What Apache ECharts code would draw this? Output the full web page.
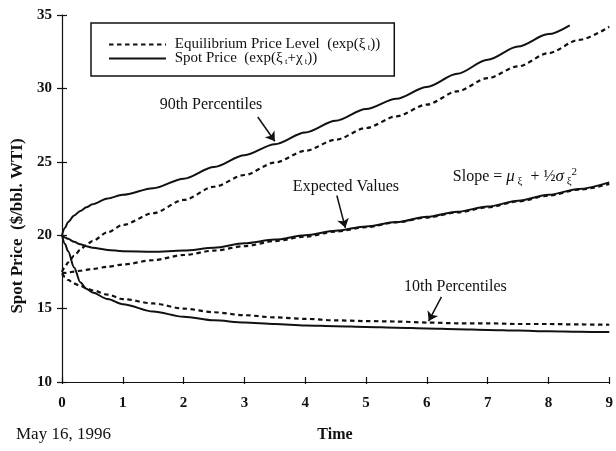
<!DOCTYPE html>
<html><head><meta charset="utf-8">
<script src="https://cdn.jsdelivr.net/npm/echarts/dist/echarts.min.js"></script>
<style>html,body{margin:0;padding:0;background:#fff}#c{width:616px;height:451px}</style>
</head><body><div id="c"></div>
<script>
// ---- data ----
const timeGrid = [0,0.05,0.1,0.2,0.3,0.4,0.5,0.75,1,1.5,2,2.5,3,3.5,4,4.5,5,5.5,6,6.5,7,7.5,8,8.5,9];
const timeSpot90 = [0,0.05,0.1,0.2,0.3,0.4,0.5,0.75,1,1.5,2,2.5,3,3.5,4,4.5,5,5.5,6,6.5,7,7.5,8,8.35];
const spot90   = [20.0,20.5,20.9,21.35,21.65,21.9,22.1,22.5,22.75,23.2,23.85,24.65,25.45,26.2,27.0,27.8,28.6,29.3,30.1,31.0,31.95,32.85,33.7,34.3];
const equil90  = [17.5,17.85,18.15,18.6,19.0,19.35,19.6,20.2,20.7,21.5,22.4,23.3,24.1,24.95,25.75,26.5,27.3,28.1,28.9,29.8,30.7,31.5,32.4,33.3,34.2];
const spotExp  = [20.0,19.85,19.75,19.55,19.38,19.25,19.15,19.0,18.9,18.87,18.95,19.15,19.45,19.7,20.0,20.3,20.6,20.9,21.25,21.6,21.95,22.35,22.75,23.15,23.6];
const equilExp = [17.4,17.43,17.46,17.52,17.58,17.64,17.7,17.85,18.0,18.3,18.65,18.95,19.25,19.6,19.9,20.25,20.55,20.88,21.2,21.55,21.9,22.3,22.7,23.1,23.5];
const spot10   = [20.0,19.4,18.9,17.8,16.8,16.35,16.1,15.65,15.3,14.8,14.45,14.2,14.05,13.95,13.85,13.8,13.75,13.7,13.65,13.6,13.55,13.5,13.45,13.42,13.4];
const equil10  = [17.4,17.15,16.95,16.7,16.55,16.4,16.25,15.95,15.65,15.35,15.0,14.75,14.55,14.4,14.3,14.2,14.15,14.12,14.05,14.0,14.0,13.95,13.95,13.92,13.9];
const xTickLabels = ['0','1','2','3','4','5','6','7','8','9'];
const yTickLabels = ['10','15','20','25','30','35'];
const seriesNames = ['Equilibrium Price Level','Spot Price'];

// ---- chart ----
const FONT = 'Liberation Serif';
const INK = '#111';
const zip = (xs, ys) => xs.map((x, i) => [x, ys[i]]);
const chart = echarts.init(document.getElementById('c'), null, {renderer: 'canvas'});

const solidStyle = {color: INK, width: 2, type: 'solid'};
const dashStyle  = {color: INK, width: 2.2, type: [4.5, 3.5]};
function mk(name, data, dashed) {
  return {
    type: 'line', name: name, data: data, symbol: 'none', smooth: 0.3, smoothMonotone: 'x',
    lineStyle: dashed ? dashStyle : solidStyle, itemStyle: {color: INK},
    silent: true, animation: false, z: 3
  };
}
const arrowStyle = {color: INK, width: 1.5, type: 'solid'};

const series = [
  mk(seriesNames[0], zip(timeGrid, equil90), true),
  mk(seriesNames[0], zip(timeGrid, equilExp), true),
  mk(seriesNames[0], zip(timeGrid, equil10), true),
  mk(seriesNames[1], zip(timeSpot90, spot90), false),
  mk(seriesNames[1], zip(timeGrid, spotExp), false),
  mk(seriesNames[1], zip(timeGrid, spot10), false)
];
// annotations on the last series
series[5].markLine = {
  silent: true, symbol: ['none', 'arrow'], symbolSize: 9, animation: false,
  lineStyle: arrowStyle, label: {show: false},
  data: [
    [{coord: [3.22, 28.05]}, {coord: [3.5, 26.4]}],
    [{coord: [4.52, 22.7]}, {coord: [4.66, 20.5]}],
    [{coord: [6.24, 15.8]}, {coord: [6.03, 14.15]}]
  ]
};
series[5].markPoint = {
  silent: true, animation: false, symbol: 'circle', symbolSize: 1,
  itemStyle: {color: 'rgba(0,0,0,0)'},
  label: {show: true, position: 'inside', fontFamily: FONT, fontSize: 16, color: INK},
  data: [
    {coord: [2.45, 28.9], label: {formatter: '90th Percentiles'}},
    {coord: [4.67, 23.3], label: {formatter: 'Expected Values'}},
    {coord: [6.47, 16.5], label: {formatter: '10th Percentiles'}},
    {coord: [6.42, 24.0], label: {
      position: 'right', distance: 0,
      formatter: '{a|Slope = }{g|μ}{s| ξ}{a|  + ½}{g|σ}{s| ξ}{p|2}',
      rich: {
        a: {fontFamily: FONT, fontSize: 16, color: INK},
        g: {fontFamily: FONT, fontSize: 17, color: INK, fontStyle: 'italic'},
        s: {fontFamily: FONT, fontSize: 11, color: INK, verticalAlign: 'bottom', padding: [9, 0, 0, 0]},
        p: {fontFamily: FONT, fontSize: 11, color: INK, verticalAlign: 'top', padding: [0, 0, 9, 0]}
      }
    }}
  ]
};

const axisLineStyle = {color: INK, width: 1.2};
const tickLabel = {fontFamily: FONT, fontSize: 15, fontWeight: 'bold', color: INK};

chart.setOption({
  animation: false,
  backgroundColor: '#fff',
  grid: {left: 62, right: 5, top: 15, bottom: 69, containLabel: false},
  xAxis: [
    {type: 'value', min: 0, max: 9, interval: 1, position: 'bottom',
     axisLine: {show: true, lineStyle: axisLineStyle},
     axisTick: {show: true, inside: true, length: 5, lineStyle: axisLineStyle},
     axisLabel: Object.assign({margin: 14, formatter: v => xTickLabels[Math.round(v)]}, tickLabel),
     splitLine: {show: false}},
    {type: 'value', min: 0, max: 9, interval: 1, position: 'bottom',
     axisLine: {show: false}, axisTick: {show: true, inside: false, length: 2, lineStyle: axisLineStyle},
     axisLabel: {show: false}, splitLine: {show: false}}
  ],
  yAxis: [
    {type: 'value', min: 10, max: 35, interval: 5, position: 'left',
     axisLine: {show: true, lineStyle: axisLineStyle},
     axisTick: {show: true, inside: false, length: 5, lineStyle: axisLineStyle},
     axisLabel: Object.assign({margin: 10, formatter: v => yTickLabels[Math.round((v - 10) / 5)]}, tickLabel),
     splitLine: {show: false}},
    {type: 'value', min: 10, max: 35, interval: 5, position: 'left',
     axisLine: {show: false}, axisTick: {show: true, inside: true, length: 5, lineStyle: axisLineStyle},
     axisLabel: {show: false}, splitLine: {show: false}}
  ],
  legend: {
    show: true, orient: 'vertical', left: 91, top: 23, selectedMode: false,
    data: seriesNames, itemWidth: 57, itemHeight: 12, itemGap: -1,
    padding: [14, 14, 10, 17], borderColor: INK, borderWidth: 1.5, borderRadius: 0,
    backgroundColor: '#fff',
    itemStyle: {opacity: 0},
    textStyle: {
      fontFamily: FONT, fontSize: 15, color: INK,
      rich: {
        a: {fontFamily: FONT, fontSize: 15, color: INK},
        s: {fontFamily: FONT, fontSize: 9, color: INK, verticalAlign: 'bottom', padding: [6, 0, 0, 0]}
      }
    },
    formatter: function (name) {
      if (name === seriesNames[0]) return '{a| Equilibrium Price Level  (exp(ξ}{s| t}{a|))}';
      return '{a| Spot Price  (exp(ξ}{s| t}{a|+χ}{s| t}{a|))}';
    }
  },
  graphic: [
    {type: 'text', rotation: Math.PI / 2, x: 18, y: 226,
     style: {text: 'Spot Price  ($/bbl. WTI)', fontFamily: FONT, fontSize: 17, fontWeight: 'bold',
             fill: INK, textAlign: 'center', textVerticalAlign: 'middle'}},
    {type: 'text', x: 335, y: 435,
     style: {text: 'Time', fontFamily: FONT, fontSize: 16, fontWeight: 'bold', fill: INK,
             textAlign: 'center', textVerticalAlign: 'middle'}},
    {type: 'text', x: 16, y: 435,
     style: {text: 'May 16, 1996', fontFamily: FONT, fontSize: 17, fill: INK,
             textAlign: 'left', textVerticalAlign: 'middle'}}
  ],
  series: series
});
</script>
</body></html>
